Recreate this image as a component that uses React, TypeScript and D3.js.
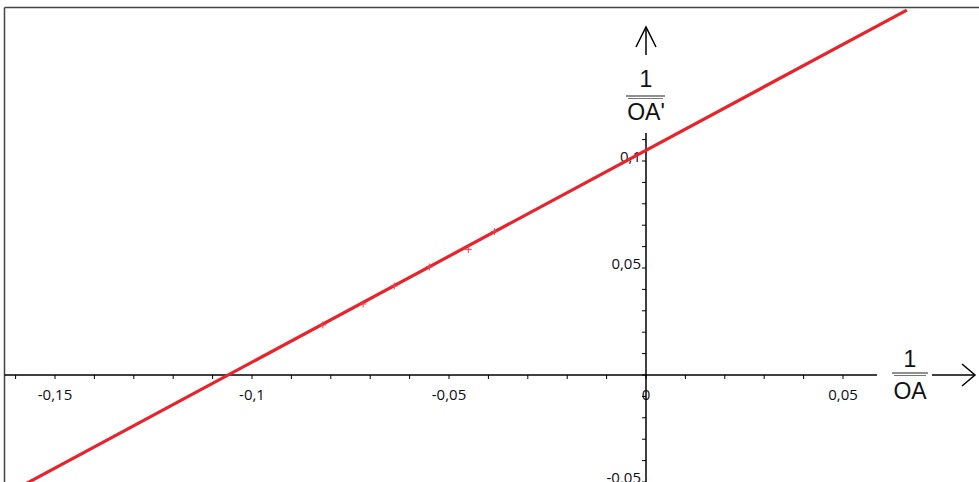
import React from "react";
import * as d3 from "d3";

// Measured points: 1/OA (x) and 1/OA' (y)
const invOA = [-0.082, -0.0718, -0.0639, -0.055, -0.0451, -0.0385];
const invOAp = [0.0234, 0.0332, 0.0416, 0.0505, 0.0587, 0.067];

// Fitted line y = slope * x + intercept
const slope = 0.99;
const intercept = 0.105;
const lineRange = [-0.16, 0.0662];

const xMajorTicks = [-0.15, -0.1, -0.05, 0, 0.05];
const xMajorLabels = ["-0,15", "-0,1", "-0,05", "0", "0,05"];
const yMajorTicks = [-0.05, 0.05, 0.1];
const yMajorLabels = ["-0,05", "0,05", "0,1"];

const W = 979;
const H = 482;

export default function App() {
  const x = d3.scaleLinear().domain([-0.15, 0.05]).range([55, 843]);
  const y = d3.scaleLinear().domain([-0.05, 0.1]).range([482, 161]);
  const x0 = x(0);
  const y0 = y(0);

  const xMinor = d3.range(-16, 6).map((i) => i / 100);
  const yMinor = d3.range(-5, 12).map((i) => i / 100);

  const linePath = d3.line<number>()
    .x((d) => x(d))
    .y((d) => y(slope * d + intercept))(lineRange);

  const red = "#e8232b";
  const labelFont = "'Open Sans', 'DejaVu Sans', sans-serif";
  const fracFont = "'Liberation Sans', Arial, sans-serif";

  return (
    <svg
      width={W}
      height={H}
      style={{ position: "absolute", left: 0, top: 0, background: "#fff" }}
    >
      {/* frame */}
      <line x1={4.5} y1={7.5} x2={W} y2={7.5} stroke="#444" strokeWidth={1.5} />
      <line x1={4.5} y1={7.5} x2={4.5} y2={H} stroke="#444" strokeWidth={1.5} />

      {/* x axis */}
      <line x1={4.5} y1={y0} x2={877} y2={y0} stroke="#000" strokeWidth={1.5} />
      <line x1={932} y1={y0} x2={974} y2={y0} stroke="#000" strokeWidth={1.5} />
      <polyline
        points={`962,364 975,${y0} 962,386`}
        fill="none"
        stroke="#000"
        strokeWidth={1.5}
      />
      {xMinor.map((t) => (
        <line key={"xm" + t} x1={x(t)} x2={x(t)} y1={y0} y2={y0 + 4} stroke="#000" strokeWidth={1} />
      ))}
      {xMajorTicks.map((t, i) => (
        <text
          key={"xl" + t}
          x={x(t)}
          y={y0 + 25}
          textAnchor="middle"
          fontFamily={labelFont}
          fontSize={15}
          fill="#0d0d1a"
        >
          {xMajorLabels[i]}
        </text>
      ))}

      {/* y axis */}
      <line x1={x0} y1={133} x2={x0} y2={H} stroke="#000" strokeWidth={1.5} />
      <line x1={x0} y1={28} x2={x0} y2={55} stroke="#000" strokeWidth={1.5} />
      <polyline
        points={`${x0 - 10},47 ${x0},27 ${x0 + 10},47`}
        fill="none"
        stroke="#000"
        strokeWidth={1.5}
      />
      {yMinor.map((t) => (
        <line key={"ym" + t} x1={x0 - 4} x2={x0} y1={y(t)} y2={y(t)} stroke="#000" strokeWidth={1} />
      ))}
      {yMajorTicks.map((t, i) => (
        <text
          key={"yl" + t}
          x={x0 - 5}
          y={y(t) + 1}
          textAnchor="end"
          fontFamily={labelFont}
          fontSize={15}
          fill="#0d0d1a"
        >
          {yMajorLabels[i]}
        </text>
      ))}

      {/* y axis label 1/OA' */}
      <text x={x0} y={87} textAnchor="middle" fontFamily={fracFont} fontSize={23} fill="#111">1</text>
      <line x1={626} x2={665} y1={96} y2={96} stroke="#222" strokeWidth={1.2} />
      <line x1={628} x2={663} y1={98.5} y2={98.5} stroke="#777" strokeWidth={1} />
      <text x={x0} y={120} textAnchor="middle" fontFamily={fracFont} fontSize={23} fill="#111">OA'</text>

      {/* x axis label 1/OA */}
      <text x={910} y={367} textAnchor="middle" fontFamily={fracFont} fontSize={23} fill="#111">1</text>
      <line x1={892} x2={928} y1={373} y2={373} stroke="#222" strokeWidth={1.2} />
      <line x1={894} x2={926} y1={375.5} y2={375.5} stroke="#777" strokeWidth={1} />
      <text x={910} y={399} textAnchor="middle" fontFamily={fracFont} fontSize={23} fill="#111">OA</text>

      {/* fitted line */}
      <path d={linePath ?? ""} fill="none" stroke={red} strokeWidth={3.2} />

      {/* data points */}
      {invOA.map((v, i) => (
        <g key={"p" + i} transform={`translate(${x(v)},${y(invOAp[i])})`}>
          <line x1={-3.5} x2={3.5} y1={0} y2={0} stroke="#f04048" strokeWidth={1} />
          <line x1={0} x2={0} y1={-3.5} y2={3.5} stroke="#f04048" strokeWidth={1} />
        </g>
      ))}
    </svg>
  );
}
